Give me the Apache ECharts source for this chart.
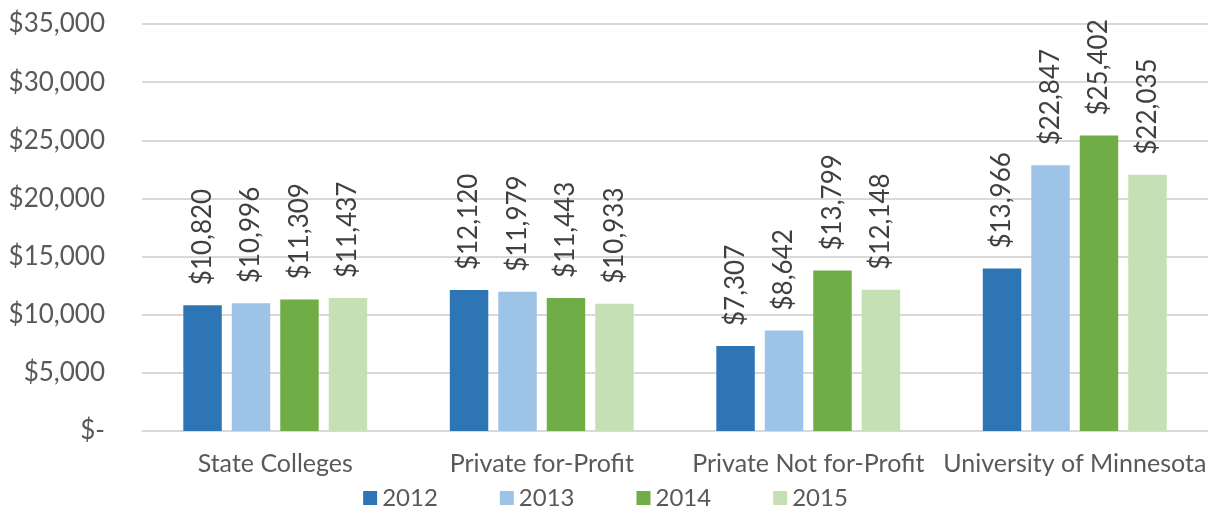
<!DOCTYPE html>
<html>
<head>
<meta charset="utf-8">
<script src="https://cdn.jsdelivr.net/npm/echarts@6/dist/echarts.min.js"></script>
<style>
  html, body { margin: 0; padding: 0; background: #fff; }
  #main { width: 1211px; height: 515px; }
</style>
</head>
<body>
<div id="main"></div>
<script>
const categories = ['State Colleges', 'Private for-Profit', 'Private Not for-Profit', 'University of Minnesota'];
const years = ['2012', '2013', '2014', '2015'];
const values2012 = [10820, 12120, 7307, 13966];
const values2013 = [10996, 11979, 8642, 22847];
const values2014 = [11309, 11443, 13799, 25402];
const values2015 = [11437, 10933, 12148, 22035];
const colors = ['#2E75B6', '#9DC3E6', '#70AD47', '#C5E0B4'];

const money = v => v === 0 ? '$-' : '$' + v.toLocaleString('en-US');
const font = 'Lato, "Open Sans", sans-serif';

const seriesData = [values2012, values2013, values2014, values2015];

let option = {
  textStyle: { fontFamily: font },
  color: colors,
  grid: { left: 142, right: 3, top: 24, bottom: 84 },
  legend: {
    bottom: 0,
    left: 'center',
    icon: 'rect',
    itemWidth: 14,
    itemHeight: 14,
    itemGap: 62,
    textStyle: { fontSize: 24, color: '#595959', fontFamily: font }
  },
  xAxis: {
    type: 'category',
    data: categories,
    axisTick: { show: false },
    axisLine: { lineStyle: { color: '#d9d9d9', width: 1 } },
    axisLabel: { interval: 0, fontSize: 25, color: '#595959', margin: 20, fontFamily: font }
  },
  yAxis: {
    type: 'value',
    min: 0,
    max: 35000,
    interval: 5000,
    axisLabel: { fontSize: 26, color: '#595959', margin: 37, formatter: money, fontFamily: font },
    splitLine: { lineStyle: { color: '#d9d9d9', width: 2 } },
    axisLine: { show: false },
    axisTick: { show: false }
  },
  series: seriesData.map((d, i) => ({
    name: years[i],
    type: 'bar',
    data: d,
    barGap: '26%',
    barCategoryGap: '31%',
    label: {
      show: true,
      position: 'top',
      rotate: 90,
      align: 'left',
      verticalAlign: 'middle',
      distance: 20,
      fontSize: 26,
      color: '#404040',
      fontFamily: font,
      formatter: p => money(p.value)
    }
  }))
};

let myChart = echarts.init(document.getElementById('main'));
myChart.setOption(option);
</script>
</body>
</html>
